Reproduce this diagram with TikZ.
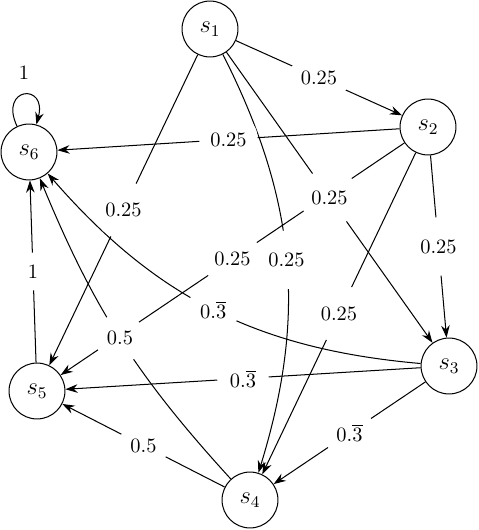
\documentclass[tikz,border=0pt]{standalone}
\usetikzlibrary{arrows.meta}
\begin{document}
\begin{tikzpicture}[x=0.49pt, y=-0.49pt, line width=0.5pt,
		>={Stealth[length=6pt, width=4.2pt, inset=2pt]},
		state/.style={draw, circle, minimum size=27.4pt, inner sep=0pt, font=\large},
		prob/.style={circle, fill=white, inner sep=3.6pt}]
		\useasboundingbox (0,0) rectangle (478,530);
		
		% --- STATES ---
		\node[state] (s1) at (210, 29) {$s_1$};
		\node[state] (s2) at (428, 127) {$s_2$};
		\node[state] (s3) at (449, 366) {$s_3$};
		\node[state] (s4) at (250, 500) {$s_4$};
		\node[state] (s5) at (37, 391) {$s_5$};
		\node[state] (s6) at (29, 152) {$s_6$};
		
		% --- TRANSITIONS (lines first, labels on top) ---
		\foreach \a/\b in {s1/s2, s1/s3, s1/s5, s2/s3, s2/s4, s2/s5, s2/s6,
			s3/s4, s3/s5, s4/s5, s5/s6} {
			\draw[->] (\a) -- coordinate (m\a\b) (\b);
		}
		\draw[->] (s1) to[bend left=22] coordinate (ms1s4) (s4);
		\draw[->] (s3) to[bend left=22] coordinate (ms3s6) (s6);
		\draw[->] (s4) to[bend left=10] coordinate (ms4s6) (s6);
		\draw[->] (s6) to[out=115, in=75, min distance=7.5mm] coordinate (ms6s6) (s6);
		
		% --- PROBABILITIES ---
		\foreach \a/\b in {s1/s2, s1/s3, s1/s4, s1/s5, s2/s3, s2/s4, s2/s5, s2/s6} {
			\node[prob] (p\a\b) at (m\a\b) {0.25};
		}
		\foreach \a/\b in {s3/s4, s3/s5, s3/s6} {
			\node[prob] (p\a\b) at (m\a\b) {$0.\overline{3}$};
		}
		\node[prob] (ps4s5) at (ms4s5) {0.5};
		\node[prob] (ps4s6) at (ms4s6) {0.5};
		\node[prob] (ps5s6) at (ms5s6) {1};
		\node[above=4pt] (ps6s6) at (ms6s6) {1};
		
	\end{tikzpicture}
\end{document}
